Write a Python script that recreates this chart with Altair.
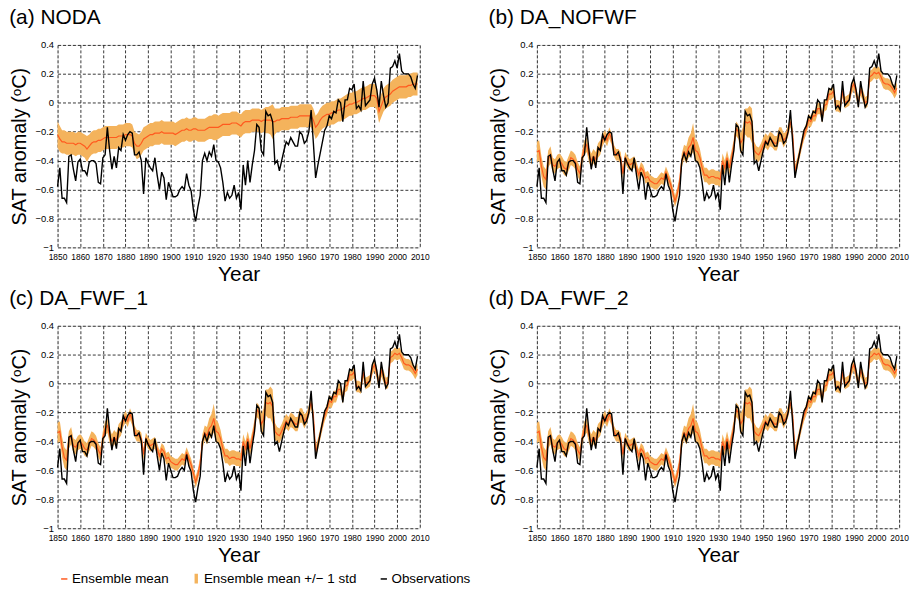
import altair as alt
import pandas as pd

YEARS = list(range(1850, 2010))

OBS = [
    -0.58, -0.45, -0.66, -0.66, -0.69, -0.37, -0.36, -0.46, -0.54, -0.41,
    -0.39, -0.47, -0.47, -0.50, -0.41, -0.40, -0.40, -0.42, -0.55, -0.56,
    -0.38, -0.36, -0.17, -0.33, -0.46, -0.37, -0.45, -0.31, -0.33, -0.22,
    -0.26, -0.22, -0.20, -0.21, -0.36, -0.36, -0.34, -0.40, -0.63, -0.38,
    -0.42, -0.45, -0.47, -0.38, -0.50, -0.60, -0.48, -0.52, -0.67, -0.55,
    -0.60, -0.65, -0.65, -0.64, -0.60, -0.58, -0.60, -0.49, -0.57, -0.61,
    -0.74, -0.82, -0.72, -0.64, -0.40, -0.35, -0.40, -0.34, -0.37, -0.29,
    -0.40, -0.41, -0.45, -0.55, -0.68, -0.62, -0.66, -0.64, -0.57, -0.66,
    -0.62, -0.74, -0.43, -0.57, -0.40, -0.55, -0.43, -0.33, -0.15, -0.17,
    -0.33, -0.36, -0.06, -0.09, -0.08, -0.13, -0.42, -0.40, -0.47, -0.40,
    -0.33, -0.27, -0.29, -0.24, -0.27, -0.30, -0.30, -0.20, -0.22, -0.28,
    -0.26, -0.20, -0.05, -0.28, -0.52, -0.43, -0.35, -0.27, -0.19, -0.16,
    -0.09, -0.11, -0.06, -0.07, 0.02, 0.00, -0.13, 0.02, 0.02, 0.10,
    0.09, 0.13, -0.04, -0.02, -0.05, 0.15, -0.02, 0.00, 0.02, 0.13,
    0.17, 0.09, -0.03, 0.15, 0.05, -0.03, 0.00, 0.24, 0.25, 0.29,
    0.24, 0.34, 0.22, 0.20, 0.20, 0.20, 0.18, 0.13, 0.10, 0.19,
]

MEAN_A = [
    -0.22, -0.25, -0.27, -0.27, -0.28, -0.28, -0.28, -0.28, -0.29, -0.28,
    -0.28, -0.29, -0.30, -0.32, -0.30, -0.28, -0.27, -0.27, -0.26, -0.26,
    -0.25, -0.24, -0.24, -0.24, -0.24, -0.24, -0.24, -0.23, -0.23, -0.23,
    -0.22, -0.22, -0.22, -0.23, -0.28, -0.30, -0.30, -0.28, -0.25, -0.24,
    -0.23, -0.22, -0.22, -0.21, -0.21, -0.21, -0.20, -0.21, -0.21, -0.21,
    -0.21, -0.21, -0.22, -0.21, -0.20, -0.19, -0.19, -0.18, -0.19, -0.19,
    -0.18, -0.18, -0.19, -0.19, -0.19, -0.19, -0.18, -0.17, -0.17, -0.17,
    -0.17, -0.17, -0.16, -0.15, -0.15, -0.15, -0.15, -0.14, -0.14, -0.14,
    -0.15, -0.16, -0.14, -0.13, -0.13, -0.13, -0.12, -0.12, -0.12, -0.12,
    -0.13, -0.12, -0.12, -0.12, -0.12, -0.13, -0.13, -0.12, -0.12, -0.11,
    -0.11, -0.11, -0.11, -0.10, -0.10, -0.10, -0.10, -0.09, -0.09, -0.09,
    -0.09, -0.09, -0.09, -0.12, -0.17, -0.15, -0.12, -0.10, -0.09, -0.08,
    -0.08, -0.07, -0.07, -0.06, -0.05, -0.05, -0.04, -0.03, -0.02, -0.01,
    -0.01, 0.00, 0.00, 0.01, 0.02, 0.03, 0.03, 0.04, 0.05, 0.05,
    0.05, 0.03, -0.06, -0.02, 0.02, 0.04, 0.05, 0.06, 0.08, 0.09,
    0.10, 0.11, 0.11, 0.11, 0.11, 0.12, 0.12, 0.13, 0.13, 0.13,
]

STD_A = [
    0.09, 0.09, 0.08, 0.08, 0.08, 0.08, 0.08, 0.08, 0.08, 0.08,
    0.08, 0.08, 0.08, 0.09, 0.08, 0.08, 0.08, 0.08, 0.08, 0.08,
    0.08, 0.08, 0.08, 0.08, 0.08, 0.08, 0.08, 0.08, 0.08, 0.08,
    0.08, 0.08, 0.08, 0.08, 0.08, 0.09, 0.08, 0.08, 0.08, 0.08,
    0.08, 0.08, 0.08, 0.08, 0.08, 0.08, 0.08, 0.08, 0.08, 0.08,
    0.08, 0.08, 0.08, 0.08, 0.08, 0.08, 0.08, 0.08, 0.08, 0.08,
    0.08, 0.08, 0.08, 0.08, 0.08, 0.08, 0.08, 0.08, 0.08, 0.09,
    0.09, 0.08, 0.08, 0.08, 0.08, 0.08, 0.08, 0.08, 0.08, 0.08,
    0.08, 0.08, 0.08, 0.08, 0.08, 0.08, 0.08, 0.08, 0.08, 0.08,
    0.08, 0.08, 0.09, 0.09, 0.10, 0.12, 0.09, 0.08, 0.08, 0.08,
    0.08, 0.08, 0.08, 0.08, 0.08, 0.08, 0.08, 0.08, 0.08, 0.08,
    0.08, 0.08, 0.08, 0.08, 0.08, 0.08, 0.08, 0.08, 0.08, 0.08,
    0.08, 0.08, 0.08, 0.08, 0.08, 0.08, 0.08, 0.08, 0.08, 0.08,
    0.08, 0.08, 0.08, 0.08, 0.08, 0.08, 0.08, 0.08, 0.08, 0.08,
    0.08, 0.08, 0.08, 0.08, 0.08, 0.08, 0.08, 0.08, 0.08, 0.08,
    0.08, 0.08, 0.08, 0.08, 0.08, 0.08, 0.08, 0.08, 0.08, 0.08,
]

MEAN_B = [
    -0.34, -0.33, -0.44, -0.51, -0.53, -0.39, -0.36, -0.43, -0.44, -0.41,
    -0.40, -0.42, -0.45, -0.46, -0.42, -0.38, -0.39, -0.41, -0.46, -0.49,
    -0.38, -0.31, -0.29, -0.36, -0.40, -0.37, -0.39, -0.33, -0.31, -0.26,
    -0.23, -0.26, -0.21, -0.25, -0.33, -0.36, -0.36, -0.38, -0.49, -0.38,
    -0.41, -0.43, -0.42, -0.41, -0.45, -0.50, -0.45, -0.47, -0.52, -0.51,
    -0.54, -0.55, -0.56, -0.56, -0.54, -0.52, -0.53, -0.48, -0.52, -0.56,
    -0.62, -0.68, -0.63, -0.55, -0.40, -0.34, -0.36, -0.31, -0.29, -0.24,
    -0.33, -0.34, -0.38, -0.45, -0.50, -0.50, -0.52, -0.51, -0.51, -0.52,
    -0.52, -0.53, -0.40, -0.45, -0.38, -0.45, -0.38, -0.30, -0.18, -0.20,
    -0.28, -0.25, -0.13, -0.14, -0.13, -0.16, -0.33, -0.35, -0.36, -0.33,
    -0.29, -0.26, -0.28, -0.25, -0.26, -0.28, -0.28, -0.22, -0.22, -0.26,
    -0.24, -0.19, -0.13, -0.22, -0.47, -0.42, -0.35, -0.28, -0.22, -0.18,
    -0.12, -0.13, -0.09, -0.09, -0.04, -0.04, -0.10, -0.02, -0.01, 0.06,
    0.06, 0.08, -0.02, -0.02, -0.03, 0.08, 0.00, 0.01, 0.02, 0.10,
    0.13, 0.07, 0.00, 0.09, 0.05, 0.00, 0.01, 0.18, 0.19, 0.21,
    0.20, 0.21, 0.18, 0.14, 0.13, 0.13, 0.12, 0.10, 0.07, 0.10,
]

STD_B = [
    0.07, 0.07, 0.07, 0.07, 0.07, 0.06, 0.06, 0.05, 0.05, 0.05,
    0.05, 0.05, 0.05, 0.05, 0.05, 0.05, 0.05, 0.05, 0.05, 0.05,
    0.05, 0.05, 0.05, 0.05, 0.05, 0.05, 0.05, 0.05, 0.05, 0.04,
    0.04, 0.04, 0.04, 0.04, 0.04, 0.04, 0.04, 0.04, 0.04, 0.04,
    0.04, 0.04, 0.04, 0.04, 0.04, 0.04, 0.04, 0.04, 0.04, 0.04,
    0.04, 0.04, 0.04, 0.04, 0.04, 0.04, 0.04, 0.04, 0.04, 0.04,
    0.04, 0.04, 0.04, 0.04, 0.05, 0.05, 0.06, 0.07, 0.08, 0.10,
    0.08, 0.07, 0.06, 0.05, 0.05, 0.05, 0.05, 0.05, 0.05, 0.05,
    0.05, 0.05, 0.05, 0.05, 0.05, 0.05, 0.05, 0.05, 0.05, 0.05,
    0.07, 0.08, 0.09, 0.10, 0.11, 0.12, 0.06, 0.05, 0.05, 0.05,
    0.05, 0.05, 0.05, 0.05, 0.05, 0.05, 0.05, 0.05, 0.05, 0.05,
    0.04, 0.04, 0.04, 0.04, 0.04, 0.04, 0.04, 0.04, 0.04, 0.04,
    0.04, 0.04, 0.04, 0.04, 0.04, 0.04, 0.04, 0.04, 0.04, 0.04,
    0.04, 0.04, 0.04, 0.04, 0.04, 0.04, 0.04, 0.04, 0.04, 0.04,
    0.04, 0.04, 0.04, 0.04, 0.04, 0.04, 0.04, 0.04, 0.04, 0.04,
    0.04, 0.04, 0.04, 0.04, 0.04, 0.04, 0.04, 0.04, 0.04, 0.04,
]

# Panels (c) and (d) are visually indistinguishable from (b) at this resolution
MEAN_C = list(MEAN_B)
STD_C = list(STD_B)
MEAN_D = list(MEAN_B)
STD_D = list(STD_B)

TITLES = ["(a) NODA", "(b) DA_NOFWF", "(c) DA_FWF_1", "(d) DA_FWF_2"]
LEGEND_LABELS = ["Ensemble mean", "Ensemble mean +/\u2212 1 std", "Observations"]

RED = "#ff5a1f"
ORANGE = "#f4b35c"
FONT = "Liberation Sans"
GRID = dict(grid=True, gridColor="#222222", gridDash=[3, 2], gridWidth=1, gridOpacity=0.9)

X_TICKS = list(range(1850, 2011, 10))
Y_TICKS = [-1, -0.8, -0.6, -0.4, -0.2, 0, 0.2, 0.4]

XSCALE = alt.Scale(domain=[1850, 2010], nice=False, zero=False)
YSCALE = alt.Scale(domain=[-1, 0.4], nice=False, zero=False)
XAXIS = alt.Axis(values=X_TICKS, format="d", title="Year", labelFontSize=8.5,
                 titleFontSize=21, titleFontWeight="normal", titlePadding=3,
                 labelPadding=5, ticks=False, domain=False, labelFlush=False,
                 labelOverlap=False, **GRID)
YAXIS = alt.Axis(values=Y_TICKS, format="~g", title="SAT anomaly (\u1d52C)",
                 labelFontSize=9.5, titleFontSize=20, titleFontWeight="normal",
                 titlePadding=6, labelPadding=4, ticks=False, domain=False,
                 labelOverlap=False, **GRID)


def xenc():
    return alt.X("year:Q", scale=XSCALE, axis=XAXIS)


def yenc(field):
    return alt.Y(field, scale=YSCALE, axis=YAXIS)


def panel(title, mean, std, with_legend=False):
    df = pd.DataFrame({
        "year": YEARS,
        "obs": OBS,
        "mean": mean,
        "lo": [m - s for m, s in zip(mean, std)],
        "hi": [m + s for m, s in zip(mean, std)],
    })
    band = alt.Chart(df).mark_area(color=ORANGE, opacity=1).encode(
        x=xenc(), y=yenc("lo:Q"), y2="hi:Q")
    mline = alt.Chart(df).mark_line(color=RED, strokeWidth=1.2).encode(
        x=xenc(), y=yenc("mean:Q"))
    oline = alt.Chart(df).mark_line(color="black", strokeWidth=1.4).encode(
        x=xenc(), y=yenc("obs:Q"))
    layers = [band, mline, oline]
    if with_legend:
        ldf = pd.DataFrame({"series": LEGEND_LABELS, "year": [1800] * 3, "v": [5] * 3})
        sc = alt.Scale(domain=LEGEND_LABELS, range=[RED, ORANGE, "black"])
        leg = alt.Legend(orient="none", legendX=0, legendY=531, direction="horizontal",
                         title=None, labelFontSize=13.5, labelFont=FONT, labelLimit=400,
                         columnPadding=20, labelOffset=1, symbolSize=40,
                         symbolStrokeWidth=1.5)
        pts = alt.Chart(ldf).mark_point(filled=True, opacity=1, clip=True).encode(
            x=xenc(), y=yenc("v:Q"),
            color=alt.Color("series:N", scale=sc, legend=leg, sort=LEGEND_LABELS),
            stroke=alt.Stroke("series:N", scale=sc, legend=leg, sort=LEGEND_LABELS),
            shape=alt.Shape("series:N", sort=LEGEND_LABELS, legend=leg,
                            scale=alt.Scale(domain=LEGEND_LABELS,
                                            range=["stroke",
                                                   "M-0.3,-1.3L0.3,-1.3L0.3,1.3L-0.3,1.3Z",
                                                   "stroke"])),
        )
        layers.append(pts)
    return alt.layer(*layers).properties(
        width=365, height=204,
        title=alt.TitleParams(title, anchor="start", fontSize=21, fontWeight="normal",
                              font=FONT, offset=12),
    )


top = alt.hconcat(panel(TITLES[0], MEAN_A, STD_A), panel(TITLES[1], MEAN_B, STD_B), spacing=58)
bottom = alt.hconcat(panel(TITLES[2], MEAN_C, STD_C, with_legend=True),
                     panel(TITLES[3], MEAN_D, STD_D), spacing=58)
chart = alt.vconcat(top, bottom, spacing=2).properties(
    padding={"left": 8, "top": 4, "right": 5, "bottom": 5}
).configure_view(stroke="black", strokeWidth=1).configure_axis(
    labelFont=FONT, titleFont=FONT, labelColor="black", titleColor="black"
).configure_legend(labelColor="black").configure(background="white")

chart.save("out.html", embed_options={"renderer": "svg", "actions": False})
